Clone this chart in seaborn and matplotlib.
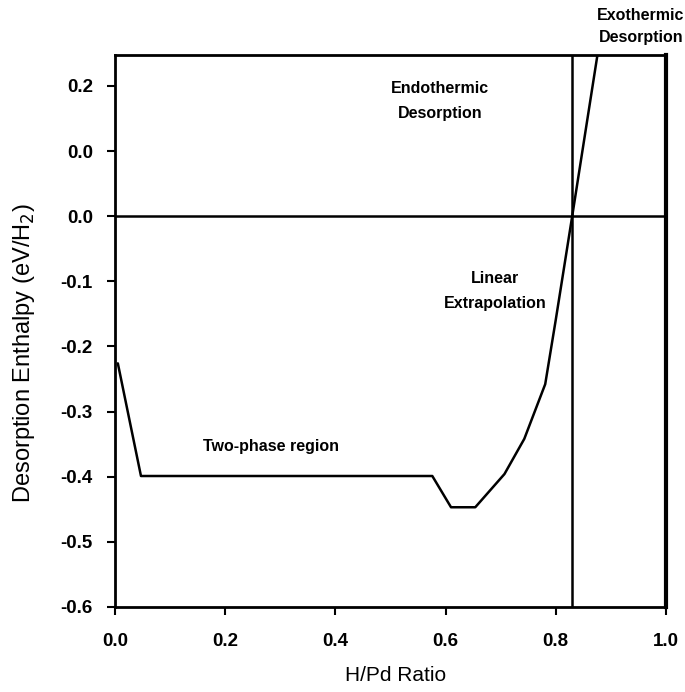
import numpy as np
import pandas as pd
import seaborn as sns
import matplotlib.pyplot as plt

# H/Pd ratio vs desorption enthalpy
hpd_ratio = [0.005, 0.047, 0.576, 0.610, 0.654, 0.707, 0.743, 0.781, 0.800, 0.830, 0.880]
enthalpy = [-0.226, -0.399, -0.399, -0.447, -0.447, -0.396, -0.342, -0.258, -0.160, 0.0, 0.270]
crossover_x = 0.83

ytick_vals = [-0.6, -0.5, -0.4, -0.3, -0.2, -0.1, 0.0, 0.1, 0.2]
ytick_labels = ["-0.6", "-0.5", "-0.4", "-0.3", "-0.2", "-0.1", "0.0", "0.0", "0.2"]
xtick_vals = [0.0, 0.2, 0.4, 0.6, 0.8, 1.0]

df = pd.DataFrame({"ratio": hpd_ratio, "enthalpy": enthalpy})

sns.set_style("ticks")
plt.rcParams["font.family"] = ["Liberation Sans", "DejaVu Sans"]
plt.rcParams["text.color"] = "black"
plt.rcParams["axes.labelcolor"] = "black"
plt.rcParams["xtick.color"] = "black"
plt.rcParams["ytick.color"] = "black"

fig = plt.figure(figsize=(6.85, 6.92), dpi=100)
ax = fig.add_axes([0.168, 0.123, 0.804, 0.797])

sns.lineplot(data=df, x="ratio", y="enthalpy", color="black", lw=1.8, ax=ax)
ax.axhline(0.0, color="black", lw=1.8)
ax.axvline(crossover_x, color="black", lw=1.8)

ax.set_xlim(0.0, 1.0)
ax.set_ylim(-0.6, 0.247)
ax.set_xticks(xtick_vals)
ax.set_xticklabels([f"{v:.1f}" for v in xtick_vals], fontsize=13.5, fontweight="bold")
ax.set_yticks(ytick_vals)
ax.set_yticklabels(ytick_labels, fontsize=13.5, fontweight="bold")
ax.tick_params(direction="out", length=6, width=1.5)
ax.tick_params(axis="x", pad=13)
ax.tick_params(axis="y", pad=10)

for side in ["left", "bottom", "top"]:
    ax.spines[side].set_linewidth(2)
    ax.spines[side].set_color("black")
ax.spines["right"].set_linewidth(3)
ax.spines["right"].set_color("black")

ax.set_xlabel("H/Pd Ratio", fontsize=15)
ax.xaxis.set_label_coords(0.51, -0.108)
ax.set_ylabel("Desorption Enthalpy (eV/H$_2$)", fontsize=17)
ax.yaxis.set_label_coords(-0.142, 0.46)

txt = dict(fontsize=11.5, fontweight="bold", ha="center", va="center")
ax.text(0.59, 0.177, "Endothermic\nDesorption", linespacing=1.8, **txt)
ax.text(0.69, -0.115, "Linear\nExtrapolation", linespacing=1.8, **txt)
ax.text(0.283, -0.353, "Two-phase region", **txt)
ax.text(0.955, 0.291, "Exothermic\nDesorption", linespacing=1.6, clip_on=False, **txt)

fig.savefig("out.png", dpi=100)
